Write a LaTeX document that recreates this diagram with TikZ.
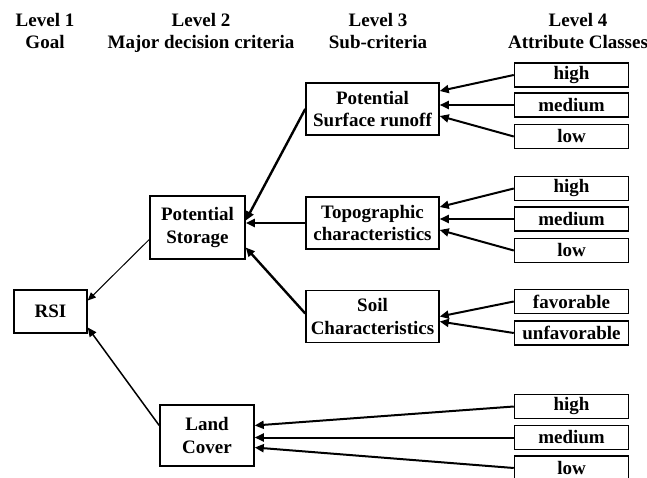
\documentclass[tikz,border=0pt]{standalone}
\usepackage{fontspec}
\setmainfont{Liberation Serif}
\usetikzlibrary{arrows.meta}

\begin{document}
\begin{tikzpicture}[
  x=1pt, y=-1pt,
  font=\bfseries\fontsize{19}{22.5}\selectfont,
  box/.style={draw, line width=1.5pt, align=center, inner sep=1pt,
              minimum height=24pt},
  classbox/.style={box, minimum width=114pt},
  critbox/.style={box, minimum width=133pt, minimum height=52pt},
  head/.style={align=center, anchor=north, inner sep=0pt},
  arrow/.style={-{Triangle[length=9pt,width=8pt]}, line width=2pt},
  thickarrow/.style={arrow, line width=2.4pt},
  thinarrow/.style={-{Triangle[length=8pt,width=7pt]}, line width=1pt}
]
\useasboundingbox (0,0) rectangle (647,478);

% ---------------- Headings ----------------
\node[head] (lev1) at (45,13)  {Level 1\\Goal};
\node[head] (lev2) at (201,13) {Level 2\\Major decision criteria};
\node[head] (lev3) at (378,13) {Level 3\\Sub-criteria};
\node[head] (lev4) at (578,13) {Level 4\\Attribute Classes};

% ---------------- Goal and criteria ----------------
\node[box, minimum width=73pt, minimum height=43pt] (rsi) at (50.5,311.5) {RSI};
\node[box, minimum width=95pt, minimum height=63pt] (storage) at (197.5,227.5)
  {Potential\\Storage};
\node[box, minimum width=94pt, minimum height=61pt] (landcover) at (207,435.5)
  {Land\\Cover};

% ---------------- Sub-criteria ----------------
\node[critbox] (runoff) at (372.5,109)  {Potential\\Surface runoff};
\node[critbox] (topo)   at (372.5,223)  {Topographic\\characteristics};
\node[critbox] (soil)   at (372.5,316.5) {Soil\\Characteristics};

% ---------------- Attribute classes ----------------
\node[classbox] (runhigh) at (571.5,75)    {high};
\node[classbox] (runmed)  at (571.5,105)   {medium};
\node[classbox] (runlow)  at (571.5,136.5) {low};

\node[classbox] (topohigh) at (571.5,188.5) {high};
\node[classbox] (topomed)  at (571.5,219)   {medium};
\node[classbox] (topolow)  at (571.5,250.5) {low};

\node[classbox] (soilfav)   at (571.5,301.5) {favorable};
\node[classbox] (soilunfav) at (571.5,333)   {unfavorable};

\node[classbox] (lchigh) at (571.5,406.5) {high};
\node[classbox] (lcmed)  at (571.5,437.5) {medium};
\node[classbox] (lclow)  at (571.5,468)   {low};

% ---------------- Arrows ----------------
\draw[arrow] (runhigh.west) -- ([yshift=18pt]runoff.east);
\draw[arrow] (runmed.west)  -- (runmed.west -| runoff.east);
\draw[arrow] (runlow.west)  -- ([yshift=-7pt]runoff.east);

\draw[arrow] (topohigh.west) -- ([yshift=16pt]topo.east);
\draw[arrow] (topomed.west)  -- (topomed.west -| topo.east);
\draw[arrow] (topolow.west)  -- ([yshift=-7pt]topo.east);

\draw[arrow] (soilfav.west)   -- (soil.east);
\draw[arrow] (soilunfav.west) -- ([yshift=-5pt]soil.east);

\draw[arrow] (lchigh.west) -- ([yshift=10pt]landcover.east);
\draw[arrow] (lcmed.west)  -- (lcmed.west -| landcover.east);
\draw[arrow] (lclow.west)  -- ([yshift=-12pt]landcover.east);

% sub-criteria to storage
\draw[thickarrow] (runoff.west) -- ([yshift=7pt]storage.east);
\draw[thickarrow] (topo.west)   -- (topo.west -| storage.east);
\draw[thickarrow] ([yshift=3pt]soil.west) -- ([yshift=-20pt]storage.east);

% criteria to goal
\draw[thinarrow] ([yshift=-12pt]storage.west) -- ([yshift=11pt]rsi.east);
\draw[arrow, line width=1.5pt] ([yshift=10pt]landcover.west) -- ([yshift=-16pt]rsi.east);

\end{tikzpicture}
\end{document}
